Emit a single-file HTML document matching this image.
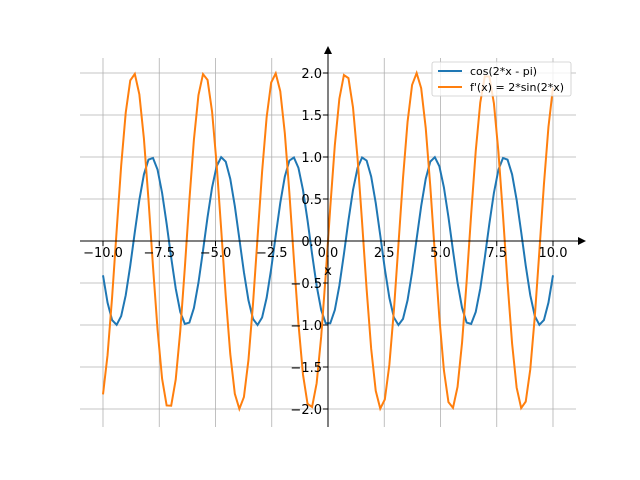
<!DOCTYPE html>
<html><head><meta charset="utf-8"><style>body{margin:0;background:#fff}svg{display:block}text{font-family:"DejaVu Sans","Liberation Sans",sans-serif;font-size:13px;fill:#000}</style></head>
<body>
<svg id="s" width="640" height="480" xmlns="http://www.w3.org/2000/svg">
<g id="grid" stroke="#b0b0b0" stroke-width="0.8"></g>
<path id="c1" fill="none" stroke="#1f77b4" stroke-width="2"/>
<path id="c2" fill="none" stroke="#ff7f0e" stroke-width="2"/>
<line x1="80" y1="241" x2="580" y2="241" stroke="#000" stroke-width="1"/>
<polygon points="586,241 578,237 578,245" fill="#000"/>
<line x1="328" y1="427" x2="328" y2="52" stroke="#000" stroke-width="1"/>
<polygon points="328,46 324,54 332,54" fill="#000"/>
<g id="lab"></g>
<text x="328" y="275" text-anchor="middle">x</text>
<rect x="432" y="62" width="139" height="34" rx="2" fill="#fff" fill-opacity="0.8" stroke="#ccc" stroke-width="0.8"/>
<line x1="438" y1="71" x2="462" y2="71" stroke="#1f77b4" stroke-width="2"/>
<line x1="438" y1="87" x2="462" y2="87" stroke="#ff7f0e" stroke-width="2"/>
<text x="470" y="75" style="font-size:11px">cos(2*x - pi)</text>
<text x="470" y="91" style="font-size:11px">f'(x) = 2*sin(2*x)</text>
</svg>
<script>
var X=v=>328+v*22.5,Y=v=>241-v*84,g=document.getElementById('grid'),l=document.getElementById('lab'),ns='http://www.w3.org/2000/svg';
function el(p,t,a,txt){var e=document.createElementNS(ns,t);for(var k in a)e.setAttribute(k,a[k]);if(txt)e.textContent=txt;p.appendChild(e);}
for(var i=-4;i<=4;i++){var v=i*2.5,x=X(v);el(g,'line',{x1:x,x2:x,y1:58,y2:427});el(l,'line',{x1:x,x2:x,y1:241,y2:246,stroke:'#000'});
el(l,'text',{x:x,y:257,'text-anchor':'middle'},(v<0?'\u2212':'')+Math.abs(v).toFixed(1));}
for(var i=-4;i<=4;i++){var v=i*0.5,y=Y(v);el(g,'line',{x1:80,x2:576,y1:y,y2:y});el(l,'line',{x1:323,x2:328,y1:y,y2:y,stroke:'#000'});
el(l,'text',{x:322,y:y+5,'text-anchor':'end'},(v<0?'\u2212':'')+Math.abs(v).toFixed(1));}
var a='',b='';for(var i=0;i<100;i++){var t=-10+20*i/99;a+=(i?'L':'M')+X(t).toFixed(2)+','+Y(-Math.cos(2*t)).toFixed(2);b+=(i?'L':'M')+X(t).toFixed(2)+','+Y(2*Math.sin(2*t)).toFixed(2);}
document.getElementById('c1').setAttribute('d',a);document.getElementById('c2').setAttribute('d',b);
</script>
</body></html>
